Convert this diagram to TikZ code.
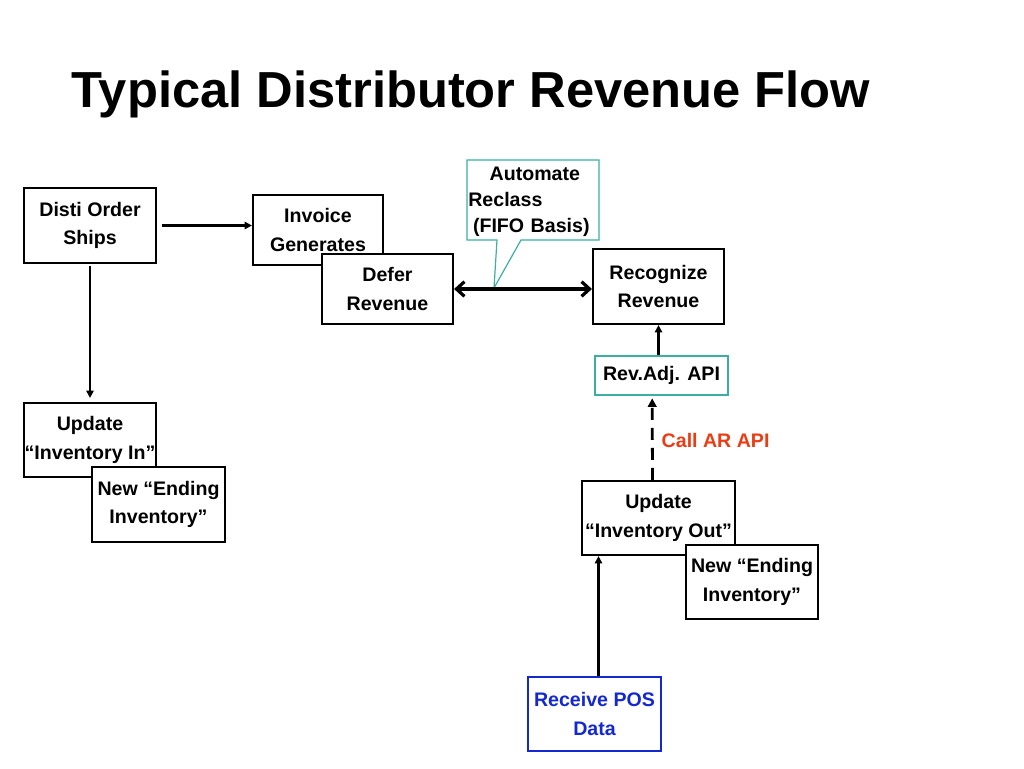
\documentclass[tikz,border=0pt]{standalone}
\usepackage{fontspec}
\setmainfont{Liberation Sans}
\usetikzlibrary{arrows.meta}
\definecolor{noteteal}{RGB}{60,175,160}
\definecolor{callred}{RGB}{235,60,20}
\definecolor{posblue}{RGB}{20,40,210}

\begin{document}
\begin{tikzpicture}[x=0.75pt,y=-0.75pt,
   box/.style={draw,line width=1.6pt,fill=white,align=center,inner sep=0pt,
               font=\bfseries\fontsize{14.7}{21.4}\selectfont},
   tealbox/.style={box,draw=noteteal,line width=0.9pt},
   flow/.style={line width=2.1pt,-{Triangle[length=5.5pt,width=5.5pt]}}]
   \useasboundingbox (0,0) rectangle (1024,768);

   \node[anchor=base west,font=\bfseries\fontsize{38}{44}\selectfont] (title) at (67,107)
      {Typical Distributor Revenue Flow};

   \node[box,minimum width=99pt,minimum height=56.25pt] (disti) at (90,225.5) {Disti Order\\Ships};
   \node[box,minimum width=97.5pt,minimum height=52.5pt] (invoice) at (318,230) {Invoice\\Generates};
   \node[box,minimum width=98.25pt,minimum height=52.5pt] (defer) at (387.5,289) {Defer\\Revenue};
   \node[box,minimum width=98.25pt,minimum height=56.25pt] (recognize) at (658.5,286.5) {Recognize\\Revenue};
   \node[tealbox,minimum width=99.75pt,minimum height=29.25pt] (revadj) at (661.5,375.5) {Rev.Adj. API};

   \node[box,minimum width=99pt,minimum height=55.5pt] (updin) at (90,440) {Update\\\makebox[0pt]{“Inventory In”}};
   \node[box,minimum width=99.75pt,minimum height=56.25pt] (endin) at (158.5,504.5) {New “Ending\\Inventory”};

   \node[box,minimum width=114.75pt,minimum height=55.5pt] (updout) at (658.5,518) {Update\\“Inventory Out”};
   \node[box,minimum width=99pt,minimum height=55.5pt] (endout) at (752,582) {New “Ending\\Inventory”};
   \node[box,draw=posblue,text=posblue,line width=1.2pt,minimum width=99.75pt,minimum height=55.5pt] (pos) at (594.5,714) {Receive POS\\Data};

   % callout with pointer
   \node[align=left,inner xsep=1pt,inner ysep=0pt,text width=97pt,minimum height=60pt,
         font=\bfseries\fontsize{14.7}{19.6}\selectfont] (reclass) at (533,202)
      {\hspace*{16pt}Automate\\Reclass\\\hspace*{3.5pt}(FIFO Basis)};
   \coordinate (tip) at (494,288);
   \draw[noteteal,line width=0.9pt] (467,240) -- (467,160) -- (599,160) -- (599,240)
      -- (521,240) -- (tip) -- (497,240) -- cycle;

   \draw[flow,shorten <=4pt] (disti.east) -- (disti.east -| invoice.west);
   \draw[flow,shorten <=1.5pt,shorten >=3pt] (disti.south) -- (updin.north);
   \draw[line width=2.4pt,{Straight Barb[length=6pt,width=11pt]}-{Straight Barb[length=6pt,width=11pt]}]
      (defer.east) -- (defer.east -| recognize.west);
   \draw[flow] (recognize.south |- revadj.north) -- (recognize.south);
   \draw[flow,dash pattern=on 9pt off 6pt,shorten >=2pt,-{Triangle[length=6.5pt,width=6.5pt]}]
      ([xshift=-4.5pt]updout.north) -- ([xshift=-7pt]revadj.south);
   \draw[flow] ([xshift=3pt]pos.north) -- ([xshift=3pt]pos.north |- updout.south);

   \node[anchor=west,text=callred,font=\bfseries\fontsize{14.7}{18}\selectfont] (callar) at (657,440) {Call AR API};
\end{tikzpicture}
\end{document}
